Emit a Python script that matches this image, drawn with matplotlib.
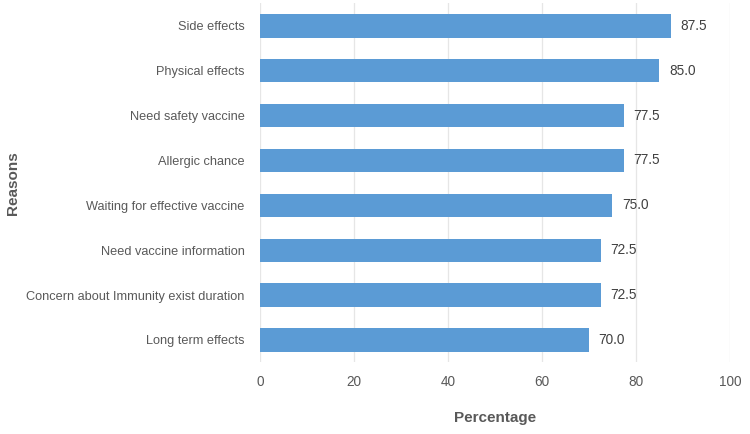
import matplotlib.pyplot as plt

plt.rcParams['font.family'] = ['Liberation Sans', 'DejaVu Sans']

# reasons from top to bottom
reasons = ['Side effects', 'Physical effects', 'Need safety vaccine', 'Allergic chance',
           'Waiting for effective vaccine', 'Need vaccine information',
           'Concern about Immunity exist duration', 'Long term effects']
percentages = [87.5, 85.0, 77.5, 77.5, 75.0, 72.5, 72.5, 70.0]
x_ticks = [0, 20, 40, 60, 80, 100]

text_color = '#595959'
bar_color = '#5B9BD5'

fig = plt.figure(figsize=(7.5, 4.34), dpi=100)
ax = fig.add_axes([0.3467, 0.165, 0.6266, 0.827])

pos = list(range(len(reasons)))[::-1]
ax.barh(pos, percentages, height=0.52, color=bar_color, zorder=3)

for p, v in zip(pos, percentages):
    ax.text(v + 2.0, p, f'{v:.1f}', va='center', ha='left', fontsize=9.8, color='#404040')

ax.set_xlim(0, 100)
ax.set_ylim(-0.5, len(reasons) - 0.5)
ax.set_xticks(x_ticks)
ax.set_yticks(pos)
ax.set_yticklabels(reasons)
ax.tick_params(axis='y', length=0, labelsize=9.2, colors=text_color, pad=11)
ax.tick_params(axis='x', length=0, labelsize=9.8, colors=text_color, pad=9)

ax.grid(axis='x', color='#e6e6e6', linewidth=0.9, zorder=0)
for s in ax.spines.values():
    s.set_visible(False)

ax.set_xlabel('Percentage', fontsize=11, fontweight='bold', color=text_color, labelpad=16)
ax.set_ylabel('Reasons', fontsize=11, fontweight='bold', color=text_color)
ax.yaxis.set_label_coords(-0.51, 0.5)

fig.savefig('out.png', dpi=100)
